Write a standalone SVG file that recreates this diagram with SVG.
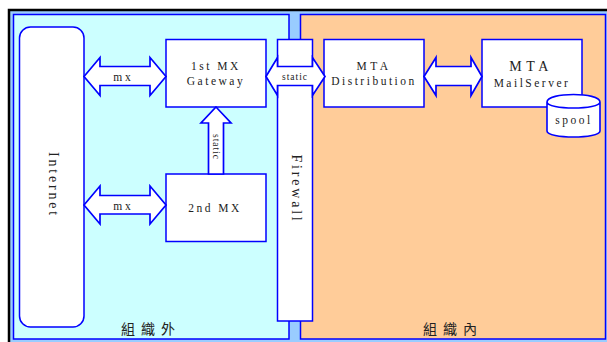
<svg xmlns="http://www.w3.org/2000/svg" width="607" height="342" viewBox="0 0 607 342">
<style>
.n{fill:#fff;stroke:#0000ff;stroke-width:1.500}
.a{fill:#fff;stroke:#0000ff;stroke-width:1.700;stroke-linejoin:miter}
text{font-family:"Liberation Serif","Noto Sans CJK TC",serif;fill:#222;text-anchor:middle}
.t{font-size:11.500px;letter-spacing:2.500px}
.v{font-size:14px;letter-spacing:2.800px}
.s{font-size:9.500px;letter-spacing:1px}
.c{font-size:14px;font-family:"Noto Sans CJK TC",sans-serif;letter-spacing:6px}
</style>
<rect width="607" height="342" fill="#fff"/>
<rect x="9" y="10" width="600" height="334" fill="#99ccff" stroke="#000" stroke-width="2.500"/>
<g id="outside"><rect x="13.500" y="14.500" width="275.500" height="324.500" fill="#ccffff" stroke="#0000ff" stroke-width="1.500"/><text class="c" x="151" y="334">組織外</text></g>
<g id="inside"><rect x="300.500" y="14.500" width="305" height="324.500" fill="#ffcc99" stroke="#0000ff" stroke-width="1.500"/><text class="c" x="453" y="334">組織內</text></g>
<g id="internet"><rect class="n" x="19.500" y="27" width="64.500" height="300" rx="11"/><text class="v" transform="translate(49 185) rotate(90)">Internet</text></g>
<g id="firewall"><rect class="n" x="277.500" y="39.500" width="35" height="281.500"/><text class="v" transform="translate(292 189) rotate(90)">Firewall</text></g>
<g id="mx1"><rect class="n" x="166" y="39.500" width="100" height="67.500"/><text class="t" x="216" y="70">1st MX</text><text class="t" x="216" y="85">Gateway</text></g>
<g id="mx2"><rect class="n" x="166" y="174" width="100" height="67.500"/><text class="t" x="215" y="212">2nd MX</text></g>
<g id="dist"><rect class="n" x="324" y="39.500" width="100" height="67.500"/><text class="t" x="374" y="70" style="letter-spacing:3.500px">MTA</text><text class="t" x="374" y="85">Distribution</text></g>
<g id="mail"><rect class="n" x="482" y="39.500" width="100" height="67.500"/><text class="t" x="531" y="71" style="font-size:14px;letter-spacing:4.500px">MTA</text><text class="t" x="532" y="87">MailServer</text></g>
<g id="spool"><path d="M547 102V131C547 139 600 139 600 131V102C600 92 547 92 547 102C547 110 600 110 600 102" fill="#fff" stroke="#0000ff" stroke-width="1.600"/><text class="t" x="574" y="124">spool</text></g>
<g id="connectors">
<path class="a" d="M84 76.500L100 57.500V66.500H150V57.500L166 76.500L150 95.500V85.500H100V95.500Z"/>
<path class="a" d="M84 205L100 186V195.500H150V186L166 205L150 224V214H100V224Z"/>
<path class="a" d="M424 76.500L436 57.500V66.500H471V57.500L482 76.500L471 95.500V85.500H436V95.500Z"/>
<path class="a" d="M266 76.500L277.500 57.500V66.500H312.500V57.500L325 76.500L312.500 95.500V85.500H277.500V95.500Z"/>
<path class="a" d="M216 107L231 123H223.500V174H208.500V123H201Z"/>
</g>
<g id="labels"><text class="t" x="123.500" y="81" style="letter-spacing:3px">mx</text><text class="t" x="123.500" y="210" style="letter-spacing:3px">mx</text><text class="s" x="295" y="80">static</text><text class="s" transform="translate(213 147) rotate(90)">static</text></g>
</svg>
